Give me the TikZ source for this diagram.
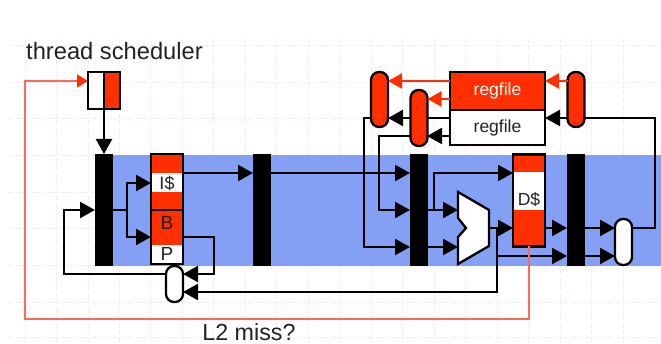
\documentclass[tikz,border=0pt]{standalone}
\usepackage{fontspec}
\setmainfont{Liberation Sans}
\usetikzlibrary{arrows.meta}
\definecolor{bandblue}{HTML}{84A0F5}
\definecolor{hot}{HTML}{FF2F00}
\definecolor{thinred}{HTML}{FF6A55}
\definecolor{gridc}{HTML}{EBEFFB}
\definecolor{ink}{HTML}{222222}
\tikzset{
  x=1pt,y=-1pt,
  every node/.style={inner sep=0pt,outer sep=0pt,font=\fontsize{18}{20}\selectfont,text=ink},
  wire/.style={line width=2.3pt,black,line join=miter},
  arr/.style={wire,-{Triangle[length=15pt,width=16pt]}},
  redarr/.style={line width=2.3pt,hot,-{Triangle[length=14pt,width=15pt]}},
  missline/.style={line width=1.2pt,thinred},
  missarr/.style={missline,-{Triangle[length=11pt,width=13pt,color=hot]}},
  bar/.style={fill=black,minimum width=18pt,minimum height=112pt},
  box/.style={draw=black,line width=2.3pt},
  pill/.style={draw=black,line width=2.3pt,rounded corners=8pt,minimum width=17pt},
  gridl/.style={gridc,line width=0.8pt,dash pattern=on 5pt off 2.5pt},
}
\begin{document}
\begin{tikzpicture}
\useasboundingbox (0,0) rectangle (661,344);
% faint grid
\foreach \k in {0,...,19} \draw[gridl] ({25+31.47*\k},38) -- ({25+31.47*\k},344);
\foreach \yy in {45,82,118,155,192,228,265,302,337} \draw[gridl] (8,\yy) -- (661,\yy);
% band
\fill[bandblue] (104,155) rectangle (661,266);
% texts
\node[font=\fontsize{23.7}{25}\selectfont,anchor=center] (ts) at (114.5,51) {thread scheduler};
\node[font=\fontsize{23.3}{25}\selectfont,anchor=center] (l2) at (249,332.5) {L2 miss?};
% pipeline bars
\node[bar] (b1) at (104,210) {};
\node[bar] (b2) at (262,210) {};
\node[bar] (b3) at (419,210) {};
\node[bar] (b4) at (576,210) {};
% scheduler
\node[minimum width=32pt,minimum height=37pt,fill=white] (sch) at (104,90.5) {};
\fill[hot] (104,72) rectangle (120,109);
\draw[box] (sch.north west) rectangle (sch.south east);
\draw[wire] (104,72) -- (104,109);
% fetch box
\node[minimum width=32pt,minimum height=110pt,fill=white] (fb) at (167,209) {};
\fill[hot] (151,154) rectangle (183,173);
\fill[hot] (151,192) rectangle (183,245);
\draw[box] (fb.north west) rectangle (fb.south east);
\draw[wire] (fb.west |- 0,210) -- (fb.east |- 0,210);
\node (is) at (167,183) {I\$};
\node[font=\fontsize{19}{21}\selectfont] (bb) at (167,223) {B};
\node[font=\fontsize{19}{21}\selectfont] (pp) at (167,254) {P};
% data cache
\node[minimum width=32pt,minimum height=92pt,fill=white] (dc) at (529,200.5) {};
\fill[hot] (513,154.5) rectangle (545,172);
\fill[hot] (513,210) rectangle (545,246.5);
\draw[box] (dc.north west) rectangle (dc.south east);
\node[font=\fontsize{17.5}{20}\selectfont] (ds) at (529,200) {D\$};
% mux
\coordinate (muxe) at (489,228);
\draw[line width=2.3pt,black,fill=white,line join=miter] (458,192) -- (489,210) -- (489,246) -- (458,264) -- (458,237) -- (466,228) -- (458,218) -- cycle;
% regfiles
\node[draw=black,line width=2.3pt,fill=hot,minimum width=95pt,minimum height=38pt,text=white,font=\fontsize{17.5}{20}\selectfont] (rr) at (497.5,91) {regfile};
\node[draw=black,line width=2.3pt,fill=white,minimum width=95pt,minimum height=35pt,font=\fontsize{17.5}{20}\selectfont] (rw) at (497.5,127.5) {regfile};
% black connectors (behind pills)
\draw[arr] (rw.west |- 0,118) -- (388,118);
\draw[arr] (rw.west |- 0,136) -- (427,136);
% pills
\node[pill,fill=hot,minimum height=55pt] (p1) at (379.5,99.5) {};
\node[pill,fill=hot,minimum height=56pt] (p2) at (419,118) {};
\node[pill,fill=hot,minimum height=55pt] (p3) at (576,99.5) {};
\node[pill,fill=white,minimum height=36pt] (p5) at (174.5,284) {};
\node[pill,fill=white,minimum height=46pt] (p4) at (623.5,242) {};
% red connectors
\draw[redarr] (rr.west |- 0,81) -- (p1.east |- 0,81);
\draw[redarr] (rr.west |- 0,99) -- (p2.east |- 0,99);
\draw[redarr] (p3.west |- 0,81) -- (rr.east |- 0,81);
% scheduler
\draw[arr] (sch.center |- sch.south) -- (b1.north);
% fetch
\draw[wire] (b1.east |- 0,210) -- (127,210);
\draw[arr] (127,183) -- (fb.west |- 0,183);
\draw[arr] (127,237) -- (fb.west |- 0,237);
\draw[wire] (127,182) -- (127,238);
\draw[arr] (fb.east |- 0,173) -- (b2.west |- 0,173);
\draw[arr] (b2.east |- 0,173) -- (b3.west |- 0,173);
\draw[arr] (fb.east |- 0,237) -| (214,274) -- (p5.east |- 0,274);
\draw[arr] (p5.west |- 0,274) -| (64,210) -- (b1.west |- 0,210);
% register read
\draw[arr] (p1.west |- 0,118) -| (364,247) -- (b3.west |- 0,247);
\draw[arr] (p2.west |- 0,136) -| (379,210) -- (b3.west |- 0,210);
\draw[arr] (p3.west |- 0,118) -- (rw.east |- 0,118);
\draw[wire] (p4.east |- 0,228) -| (655,118) -- (p3.east |- 0,118);
% execute
\draw[arr] (b3.east |- 0,210) -- (458,210);
\draw[arr] (b3.east |- 0,247) -- (458,247);
\draw[arr] (434,210) |- (dc.west |- 0,173);
\draw[arr] (muxe) -- (dc.west |- 0,228);
\draw[arr] (497,256) -- (b4.west |- 0,256);
\draw[arr] (497,228) -- (497,292) -- (p5.east |- 0,292);
\draw[arr] (dc.east |- 0,228) -- (b4.west |- 0,228);
\draw[arr] (b4.east |- 0,228) -- (p4.west |- 0,228);
\draw[arr] (b4.east |- 0,256) -- (p4.west |- 0,256);
% L2 miss
\draw[missarr] (dc.south) -- (529,319) -- (25,319) -- (25,81) -- (sch.west |- 0,81);
\end{tikzpicture}
\end{document}
